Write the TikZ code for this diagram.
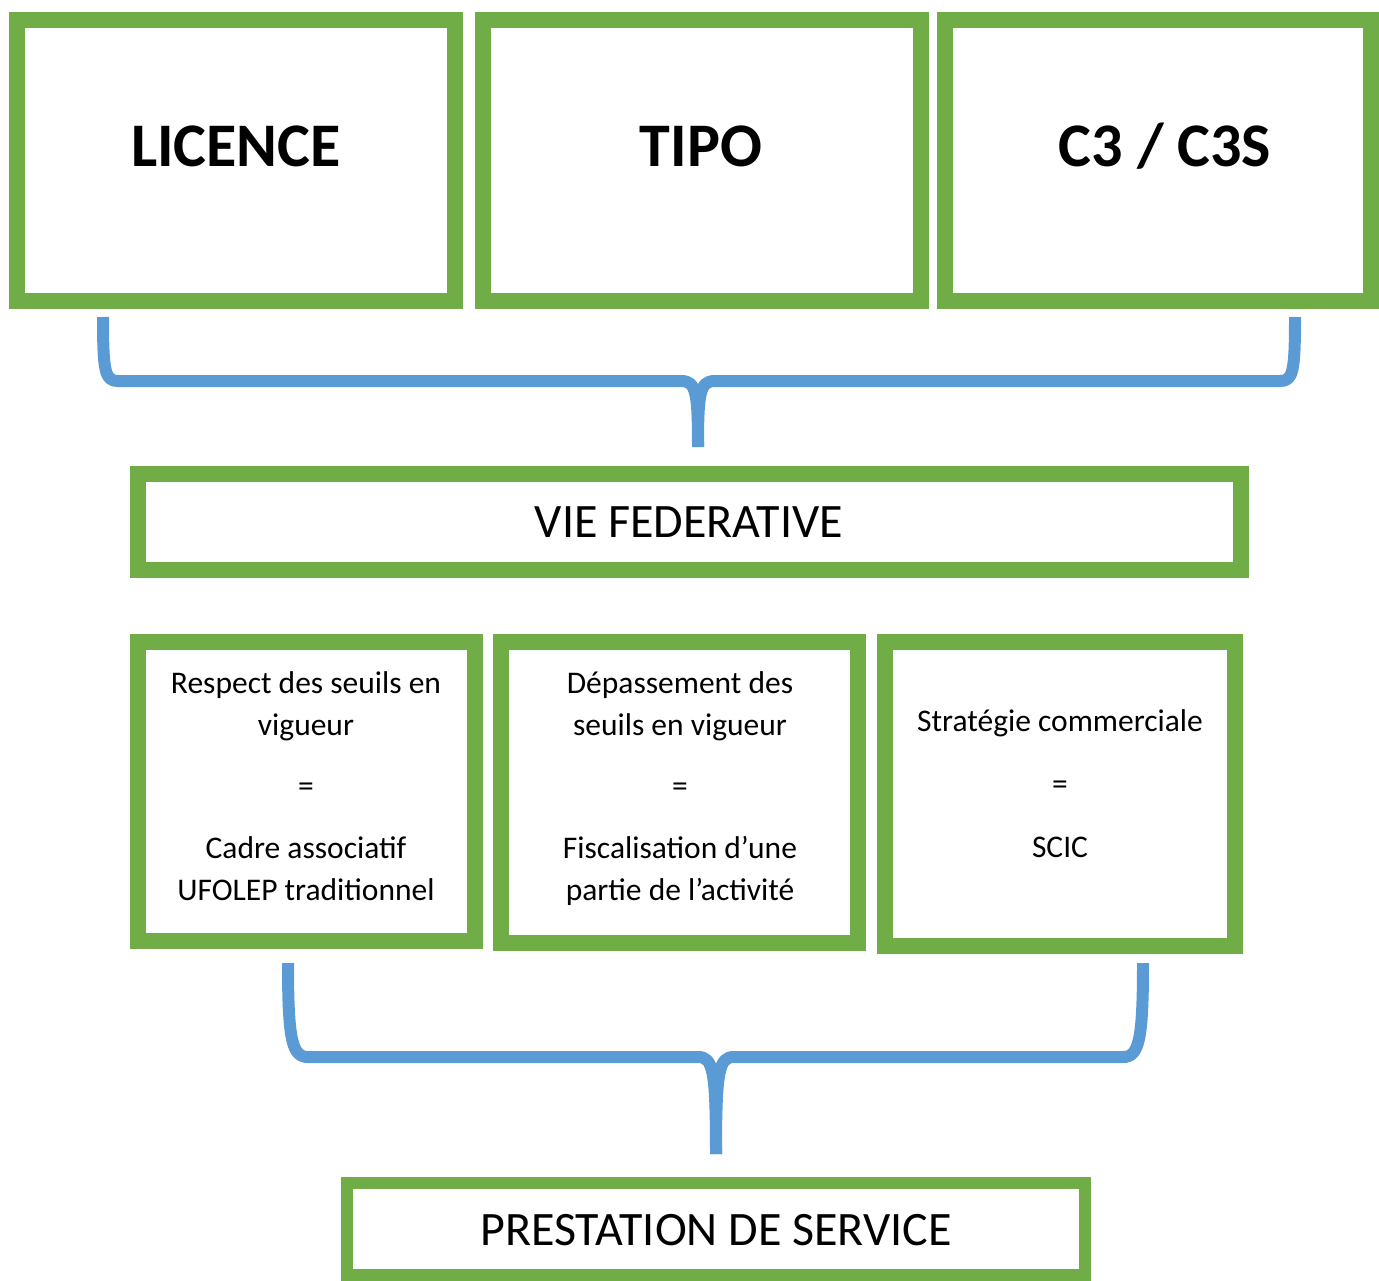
\documentclass[tikz,border=0pt]{standalone}
\usepackage{fontspec}
\setmainfont{Carlito}
\definecolor{boxgreen}{HTML}{70AD47}
\definecolor{braceblue}{HTML}{5B9BD5}
\begin{document}
\begin{tikzpicture}[x=1pt,y=-1pt,
  frame/.style={draw=boxgreen,line width=16pt,fill=white},
  thinframe/.style={draw=boxgreen,line width=12pt,fill=white},
  bracepath/.style={draw=braceblue,line width=12pt,line cap=butt,line join=round},
  biglabel/.style={anchor=base,font=\fontsize{62}{70}\selectfont\bfseries,inner sep=0pt},
  midlabel/.style={anchor=base,font=\fontsize{48}{56}\selectfont,inner sep=0pt},
  smalllabel/.style={anchor=base,font=\fontsize{31.5}{42}\selectfont,inner sep=0pt}]
\useasboundingbox (0,0) rectangle (1379,1281);
\clip (0,0) rectangle (1379,1281);

% top row of boxes
\draw[frame] (17,20) rectangle (455,301);
\draw[frame] (483,20) rectangle (921,301);
\draw[frame] (945,20) rectangle (1371,301);
\node[biglabel] (licence) at (236,167) {LICENCE};
\node[biglabel] (tipo) at (701,167) {TIPO};
\node[biglabel] (c3) at (1165,167) {C3 / C3S};

% brace gathering the top row
\coordinate (tbl) at (103,317);
\coordinate (tbr) at (1295,317);
\coordinate (tbtip) at (698,447);
\path[bracepath] (tbl) .. controls (103,372) and (105,381) .. (118,381)
  -- (681,381) .. controls (696,381) and (698,392) .. (tbtip);
\path[bracepath] (tbr) .. controls (1295,372) and (1293,381) .. (1280,381)
  -- (715,381) .. controls (700,381) and (698,392) .. (tbtip);

% federal life banner
\draw[frame] (138,474) rectangle (1241,570);
\node[midlabel] (vie) at (689,537) {VIE FEDERATIVE};

% middle row of boxes
\draw[frame] (138,642) rectangle (475,941);
\draw[frame] (501,642) rectangle (858,943);
\draw[frame] (885,642) rectangle (1235,946);

\node[smalllabel] (a1) at (306,693) {Respect des seuils en};
\node[smalllabel] (a2) at (306,735) {vigueur};
\node[smalllabel] (a3) at (306,796) {=};
\node[smalllabel] (a4) at (306,858) {Cadre associatif};
\node[smalllabel] (a5) at (306,900) {UFOLEP traditionnel};

\node[smalllabel] (b1) at (680,693) {Dépassement des};
\node[smalllabel] (b2) at (680,735) {seuils en vigueur};
\node[smalllabel] (b3) at (680,796) {=};
\node[smalllabel] (b4) at (680,858) {Fiscalisation d’une};
\node[smalllabel] (b5) at (680,900) {partie de l’activité};

\node[smalllabel] (c1) at (1060,731) {Stratégie commerciale};
\node[smalllabel] (c2) at (1060,794) {=};
\node[smalllabel] (c3b) at (1060,857) {SCIC};

% brace gathering the middle row
\coordinate (bbl) at (288,963);
\coordinate (bbr) at (1143,963);
\coordinate (bbtip) at (716,1154);
\path[bracepath] (bbl) .. controls (288,1040) and (292,1057) .. (308,1057)
  -- (698,1057) .. controls (713,1057) and (716,1070) .. (bbtip);
\path[bracepath] (bbr) .. controls (1143,1040) and (1139,1057) .. (1123,1057)
  -- (734,1057) .. controls (719,1057) and (716,1070) .. (bbtip);

% service banner
\draw[thinframe] (347,1183) rectangle (1085,1275);
\node[midlabel] (presta) at (716,1245) {PRESTATION DE SERVICE};
\end{tikzpicture}
\end{document}
